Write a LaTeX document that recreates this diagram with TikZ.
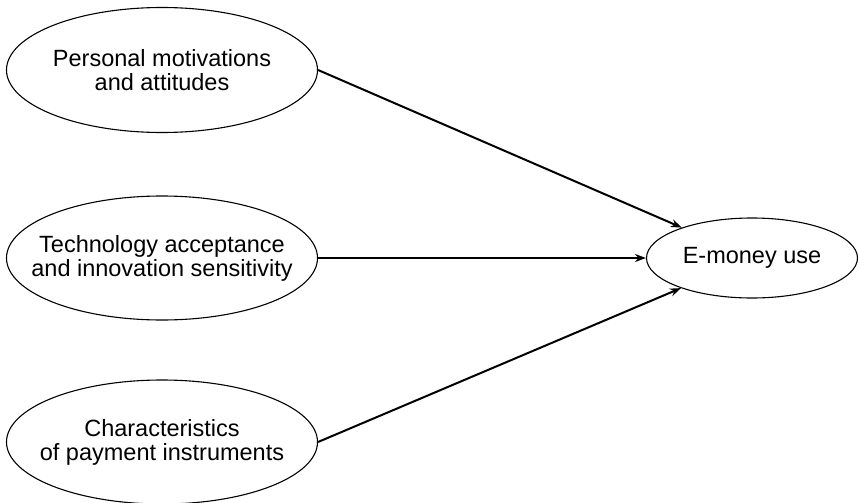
\documentclass[tikz,border=0pt]{standalone}
\usepackage{fontspec}
\setmainfont{Liberation Sans}
\usepackage{tikz}
\usetikzlibrary{arrows.meta, shapes.geometric, positioning}

\begin{document}
\begin{tikzpicture}[x=1pt,y=-1pt,
		factor/.style={draw, ellipse, line width=1.1pt, inner sep=0pt},
		caption/.style={align=center, inner sep=0pt, font=\fontsize{23.5}{24}\selectfont},
		link/.style={line width=2pt, -{Stealth[length=11pt,width=8pt]}}]
								\useasboundingbox (0,0) rectangle (859,503);

								\node[factor, minimum width=311pt, minimum height=125pt] (pers) at (162,70) {};
								\node[caption] at (pers) {Personal motivations\\and attitudes};
								\node[factor, minimum width=311pt, minimum height=124pt] (tech) at (162,258) {};
								\node[caption] at (tech) {Technology acceptance\\and innovation sensitivity};
								\node[factor, minimum width=311pt, minimum height=124pt] (chars) at (162,442) {};
								\node[caption] at (chars) {Characteristics\\of payment instruments};

								\node[factor, minimum width=211pt, minimum height=80pt] (emoney) at (752,258) {};
								\node[caption] at (emoney) {E-money use};

								\draw[link] (pers.east) -- (emoney);
								\draw[link] (tech.east) -- (emoney.west);
								\draw[link] (chars.east) -- (emoney);
\end{tikzpicture}
\end{document}
